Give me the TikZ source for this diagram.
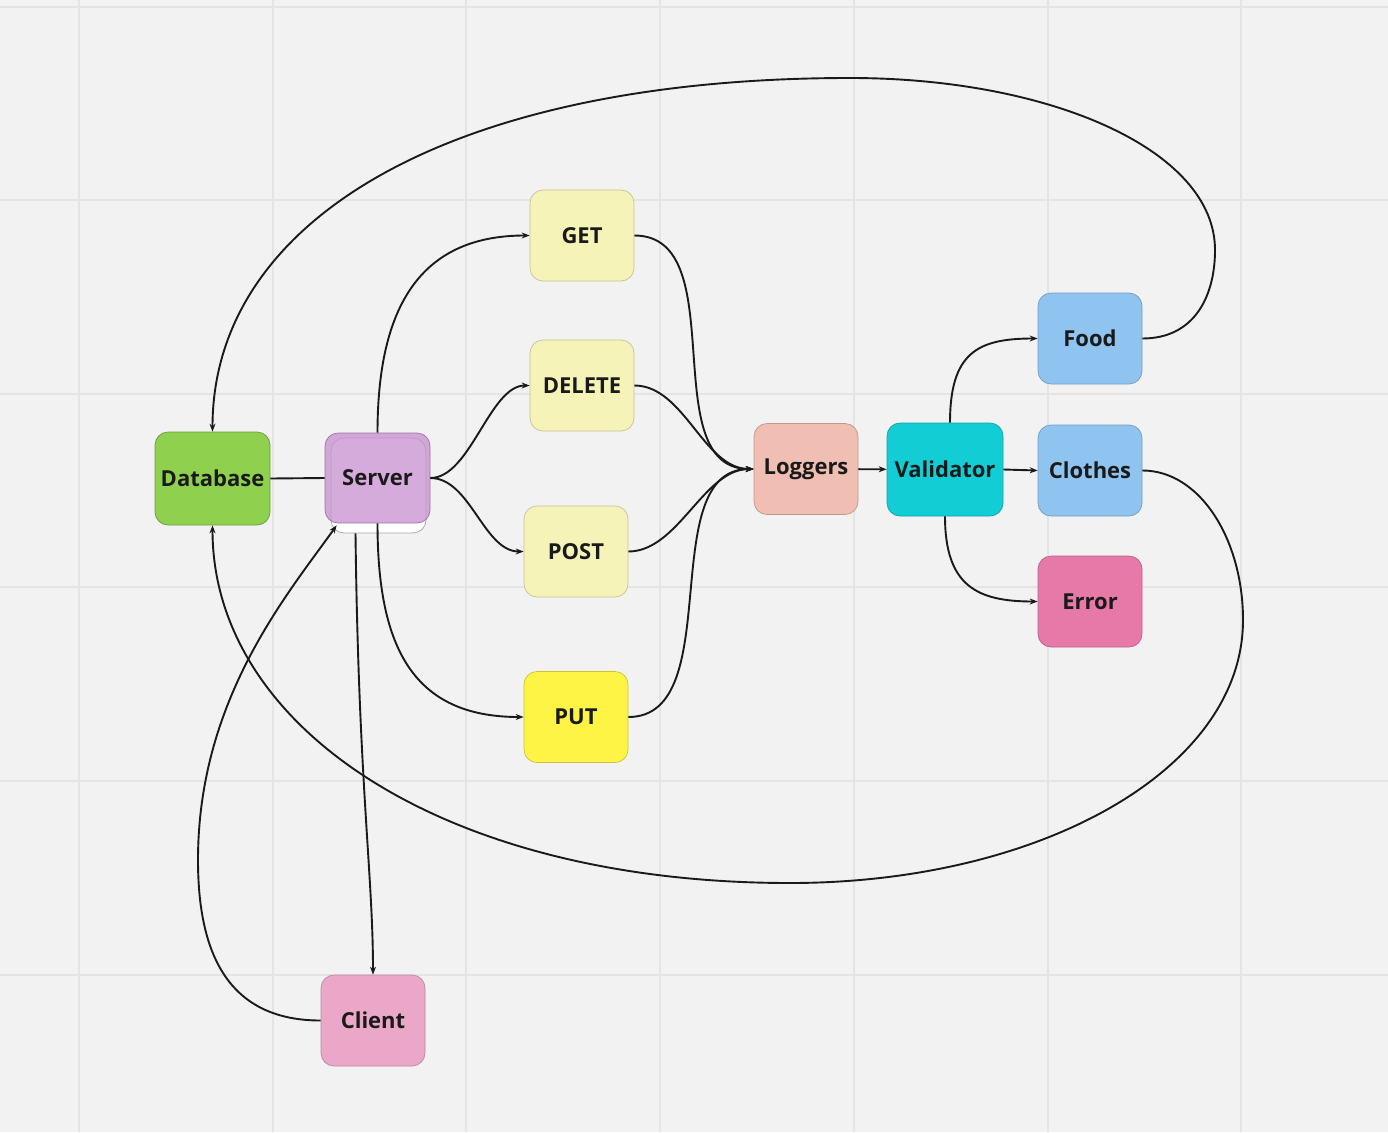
\documentclass[tikz,border=0pt]{standalone}
\usepackage{fontspec}
\newfontfamily\labelfont{Open Sans}
\usetikzlibrary{arrows.meta}
\definecolor{paper}{HTML}{F2F2F2}
\definecolor{gridline}{HTML}{E4E4E4}
\definecolor{ink}{HTML}{1A1A1A}
\definecolor{dbgreen}{HTML}{8FD14F}
\definecolor{srvpurple}{HTML}{C78FCF}
\definecolor{reqyellow}{HTML}{F6F3B9}
\definecolor{putyellow}{HTML}{FEF445}
\definecolor{logpink}{HTML}{F0BEB2}
\definecolor{valcyan}{HTML}{12CDD4}
\definecolor{itemblue}{HTML}{8FC4F0}
\definecolor{errpink}{HTML}{E779A8}
\definecolor{clientpink}{HTML}{EBA7C8}

\begin{document}
\begin{tikzpicture}[x=1pt, y=-1pt,
  box/.style={rectangle, rounded corners=13pt, minimum width=104pt, minimum height=91pt,
    inner sep=0pt, line width=0.7pt, text=ink,
    font=\labelfont\bfseries\fontsize{22}{26}\selectfont},
  wire/.style={line width=1.9pt, ink},
  >={Stealth[length=8pt, width=6pt]}]
  \useasboundingbox (0,0) rectangle (1388,1132);
  \fill[paper] (0,0) rectangle (1388,1132);
  \foreach \x in {79,273,466,660,854,1048,1241}
    \draw[gridline, line width=2pt] (\x,0) -- (\x,1132);
  \foreach \y in {7,200,394,587,781,975}
    \draw[gridline, line width=2pt] (0,\y) -- (1388,\y);

  \node[box, fill=dbgreen, draw=dbgreen!75!black, minimum width=115pt, minimum height=93pt] (db) at (212.5,478.5) {Database};
  \node[box, fill=white, draw=black!35, minimum width=95pt, minimum height=95pt] (srvbg) at (378.5,485.5) {};
  \node[box, fill=srvpurple, fill opacity=0.75, text opacity=1, draw=srvpurple!80!black, minimum width=105pt, minimum height=90pt] (srv) at (377.5,478) {Server};
  \node[box, fill=reqyellow, draw=reqyellow!80!black] (get) at (582,235.5) {GET};
  \node[box, fill=reqyellow, draw=reqyellow!80!black] (del) at (582,385.5) {DELETE};
  \node[box, fill=reqyellow, draw=reqyellow!80!black] (post) at (576,551.5) {POST};
  \node[box, fill=putyellow, draw=putyellow!80!black] (put) at (576,717) {PUT};
  \node[box, fill=logpink, draw=logpink!80!black] (log) at (806,469) {Loggers};
  \node[box, fill=valcyan, draw=valcyan!80!black, minimum width=116pt, minimum height=93pt] (val) at (945,469.5) {Validator};
  \node[box, fill=itemblue, draw=itemblue!80!black] (food) at (1090,338.5) {Food};
  \node[box, fill=itemblue, draw=itemblue!80!black] (clo) at (1090,470.5) {Clothes};
  \node[box, fill=errpink, draw=errpink!80!black] (err) at (1090,601.5) {Error};
  \node[box, fill=clientpink, draw=clientpink!80!black] (cli) at (373,1020.5) {Client};

  \coordinate (ne) at (1215,250);
  \coordinate (top) at (850,78);
  \coordinate (se) at (1243,620);
  \coordinate (bot) at (790,883);
  \coordinate (sw) at (198,860);

  \draw[wire] (db.east) -- (srv.west);
  \draw[wire,->] (srv.north) .. controls +(0,-125) and +(-110,0) .. (get.west);
  \draw[wire,->] (srv.east) .. controls +(40,0) and +(-40,0) .. (del.west);
  \draw[wire,->] (srv.east) .. controls +(40,0) and +(-40,0) .. (post.west);
  \draw[wire,->] (srv.south) .. controls +(0,125) and +(-110,0) .. (put.west);
  \draw[wire,->] (get.east) .. controls +(100,0) and +(-100,0) .. (log.west);
  \draw[wire,->] (del.east) .. controls +(50,0) and +(-50,0) .. (log.west);
  \draw[wire,->] (post.east) .. controls +(50,0) and +(-50,0) .. (log.west);
  \draw[wire,->] (put.east) .. controls +(100,0) and +(-100,0) .. (log.west);
  \draw[wire,->] (log) -- (val);
  \draw[wire,->] ([xshift=5pt]val.north) .. controls +(0,-70) and +(-60,0) .. (food.west);
  \draw[wire,->] (val.east) -- (clo.west);
  \draw[wire,->] (val.south) .. controls +(0,70) and +(-60,0) .. (err.west);
  \draw[wire,->] (food.east) .. controls +(53,0) and +(0,45) .. (ne)
    .. controls +(0,-100) and +(200,0) .. (top)
    .. controls +(-400,0) and +(0,-212) .. (db.north);
  \draw[wire,->] (clo.east) .. controls +(58,0) and +(0,-80) .. (se)
    .. controls +(0,150) and +(250,0) .. (bot)
    .. controls +(-350,0) and +(0,200) .. (db.south);
  \draw[wire,->] (cli.west) .. controls +(-95,0) and +(0,90) .. (sw)
    .. controls +(0,-160) and +(-50,70) .. ([shift={(6,-8)}]srvbg.south west);
  \draw[wire,->] ([xshift=-23pt]srvbg.south) .. controls +(3,250) and +(0,-100) .. (cli.north);
\end{tikzpicture}
\end{document}
